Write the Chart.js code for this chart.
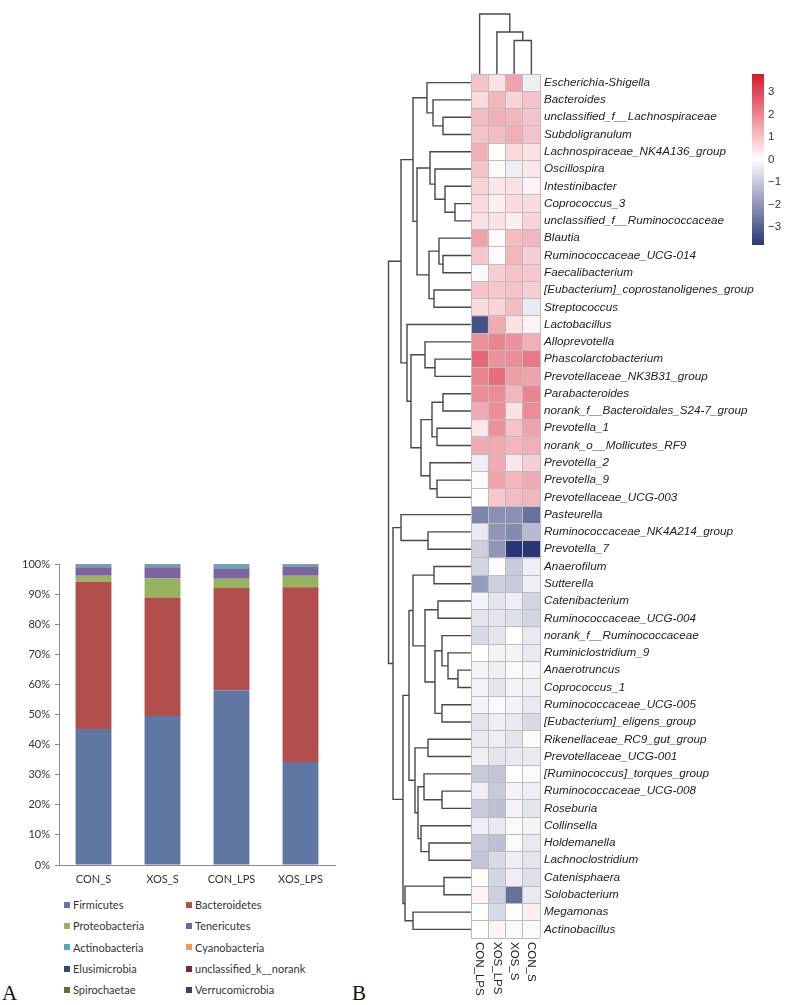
<!DOCTYPE html>
<html>
<head>
<meta charset="utf-8">
<script src="https://cdn.jsdelivr.net/npm/chart.js@4.4.1/dist/chart.umd.min.js"></script>
<style>
  html, body { margin: 0; padding: 0; background: #fff; }
  #page { position: relative; width: 789px; height: 1005px; overflow: hidden; }
  #page canvas { position: absolute; }
  #legendA {
    position: absolute; left: 64px; top: 894px;
    display: grid; grid-template-columns: 122px 150px; grid-auto-rows: 21.3px;
    font: 11px Lato, sans-serif; color: #333;
  }
  #legendA .item { display: flex; align-items: center; white-space: nowrap; }
  #legendA .sw { width: 6px; height: 6px; margin-right: 3px; }
  .tag { position: absolute; font: 21px "Liberation Serif", serif; color: #111; }
</style>
</head>
<body>
<div id="page">
  <canvas id="barsA" width="345" height="345" style="left:0;top:548px"></canvas>
  <div id="legendA"></div>
  <canvas id="rowTree" width="85" height="864" style="left:386px;top:74px"></canvas>
  <canvas id="colTree" width="69" height="74" style="left:471px;top:0"></canvas>
  <canvas id="heat" width="320" height="936" style="left:469px;top:72px"></canvas>
  <canvas id="scaleBar" width="40" height="180" style="left:752px;top:70px"></canvas>
  <div class="tag" style="left:2px;top:981px">A</div>
  <div class="tag" style="left:352px;top:981px">B</div>
</div>
<script>
'use strict';

// ---- panel A: relative abundance of phyla (%) ----
const groups = ['CON_S', 'XOS_S', 'CON_LPS', 'XOS_LPS'];
const phyla = ['Firmicutes', 'Bacteroidetes', 'Proteobacteria', 'Tenericutes', 'Actinobacteria',
    'Cyanobacteria', 'Elusimicrobia', 'unclassified_k__norank', 'Spirochaetae', 'Verrucomicrobia'];
const phylumColors = ['#6076a3', '#b24f4d', '#97b35f', '#7d649f', '#58a8be',
    '#f29a59', '#364b6c', '#6e2e2c', '#5f7133', '#4b3b5f'];
const firmicutes     = [45.2, 49.5, 58.0, 34.2];
const bacteroidetes  = [48.9, 39.4, 34.0, 58.1];
const proteobacteria = [2.0, 6.3, 3.1, 3.8];
const tenericutes    = [2.8, 3.7, 3.5, 2.9];
const actinobacteria = [0.8, 0.8, 1.1, 0.7];
const cyanobacteria  = [0.05, 0.05, 0.05, 0.05];
const elusimicrobia  = [0.05, 0.05, 0.05, 0.05];
const unclassifiedK  = [0.1, 0.1, 0.1, 0.1];
const spirochaetae   = [0.05, 0.05, 0.05, 0.05];
const verrucomicrobia = [0.05, 0.05, 0.05, 0.05];
const phylumShares = [firmicutes, bacteroidetes, proteobacteria, tenericutes, actinobacteria,
    cyanobacteria, elusimicrobia, unclassifiedK, spirochaetae, verrucomicrobia];
const percentTicks = [0, 10, 20, 30, 40, 50, 60, 70, 80, 90, 100];

// ---- panel B: heatmap of genus z-scores ----
const heatCols = ['CON_LPS', 'XOS_LPS', 'XOS_S', 'CON_S'];
const genera = [
    'Escherichia-Shigella', 'Bacteroides', 'unclassified_f__Lachnospiraceae', 'Subdoligranulum',
    'Lachnospiraceae_NK4A136_group', 'Oscillospira', 'Intestinibacter', 'Coprococcus_3',
    'unclassified_f__Ruminococcaceae', 'Blautia', 'Ruminococcaceae_UCG-014', 'Faecalibacterium',
    '[Eubacterium]_coprostanoligenes_group', 'Streptococcus', 'Lactobacillus', 'Alloprevotella',
    'Phascolarctobacterium', 'Prevotellaceae_NK3B31_group', 'Parabacteroides',
    'norank_f__Bacteroidales_S24-7_group', 'Prevotella_1', 'norank_o__Mollicutes_RF9',
    'Prevotella_2', 'Prevotella_9', 'Prevotellaceae_UCG-003', 'Pasteurella',
    'Ruminococcaceae_NK4A214_group', 'Prevotella_7', 'Anaerofilum', 'Sutterella',
    'Catenibacterium', 'Ruminococcaceae_UCG-004', 'norank_f__Ruminococcaceae',
    'Ruminiclostridium_9', 'Anaerotruncus', 'Coprococcus_1', 'Ruminococcaceae_UCG-005',
    '[Eubacterium]_eligens_group', 'Rikenellaceae_RC9_gut_group', 'Prevotellaceae_UCG-001',
    '[Ruminococcus]_torques_group', 'Ruminococcaceae_UCG-008', 'Roseburia', 'Collinsella',
    'Holdemanella', 'Lachnoclostridium', 'Catenisphaera', 'Solobacterium', 'Megamonas',
    'Actinobacillus'
];
const zScores = [
    [1.0, 0.5, 1.5, -0.3], [0.6, 1.2, 0.7, 1.0], [1.1, 1.3, 1.2, 1.0], [1.0, 1.1, 1.3, 1.0],
    [1.3, 0.0, 0.6, 0.5], [1.0, 0.1, -0.3, 0.4], [0.7, 0.4, 0.5, 0.2], [0.6, 0.3, 0.6, 0.6],
    [0.5, 0.5, 0.3, 0.7], [1.5, 0.1, 1.1, 1.2], [0.9, 0.1, 1.2, 0.8], [0.1, 0.8, 1.0, 0.9],
    [1.0, 0.9, 1.0, 0.8], [0.6, 0.7, 1.1, -0.4], [-3.3, 1.4, 0.5, 0.2], [1.8, 2.0, 1.8, 1.3],
    [2.5, 1.8, 1.9, 2.2], [2.0, 2.4, 1.6, 1.5], [1.9, 1.9, 1.2, 2.0], [1.4, 1.9, 0.5, 1.9],
    [0.4, 1.8, 1.0, 1.5], [1.4, 1.4, 1.2, 1.3], [-0.3, 1.4, 0.4, 0.8], [0.1, 1.5, 1.2, 1.4],
    [0.0, 0.9, 1.1, 1.2], [-2.3, -2.1, -2.1, -2.7], [-0.4, -2.0, -2.2, -1.3], [-0.9, -2.0, -3.8, -3.8],
    [-0.8, -0.05, -1.0, -0.3], [-1.9, -0.9, -1.0, -0.3], [-0.2, -0.5, -0.3, -0.8], [-0.5, -0.5, -0.6, -0.8],
    [-0.7, -0.5, 0.0, -0.4], [0.0, -0.2, -0.2, -0.4], [-0.2, -0.3, -0.1, -0.2], [-0.2, -0.5, -0.2, -0.3],
    [-0.2, -0.1, -0.2, -0.4], [-0.5, -0.3, -0.4, -0.7], [-0.4, -0.3, -0.5, -0.1], [-0.3, -0.5, -0.4, -0.4],
    [-1.0, -1.1, 0.0, -0.1], [-0.3, -1.0, -0.2, -0.3], [-1.0, -1.2, -0.2, -0.5], [-0.3, -0.4, -0.1, -0.2],
    [-1.0, -1.2, -0.1, -0.4], [-1.1, -0.7, -0.3, -0.5], [0.0, -0.8, -0.3, -0.6], [0.2, -0.9, -2.7, -0.4],
    [0.0, -0.7, 0.0, 0.3], [0.0, 0.2, -0.1, -0.1]
];
// hclust-style merges: negative = leaf (1-based), positive = earlier merge, then height
const rowMerges = [
    [-3, -4, 28], [-2, 1, 38], [-1, 2, 44], [-8, -9, 16], [-7, 4, 26], [-6, 5, 36], [-5, 6, 41],
    [-11, -12, 28], [-10, 8, 32], [-13, -14, 37], [9, 10, 42], [7, 11, 54], [3, 12, 58],
    [-17, -18, 36], [-16, 14, 46], [-19, -20, 28], [-21, -22, 34], [16, 17, 39], [-24, -25, 34],
    [-23, 19, 41], [18, 20, 50], [15, 21, 60], [-15, 22, 64], [13, 23, 70],
    [-27, -28, 43], [-26, 25, 70], [-29, -30, 37], [-31, -32, 33], [-35, -36, 13], [-34, 29, 23],
    [-33, 30, 29], [-37, -38, 29], [31, 32, 36], [28, 33, 46], [27, 34, 58], [-39, -40, 43],
    [-42, -43, 29], [-41, 37, 47], [-45, -46, 42], [-44, 39, 50], [38, 40, 53], [36, 41, 56],
    [35, 42, 62], [-47, -48, 27], [-49, -50, 58], [44, 45, 66], [43, 46, 68], [26, 47, 78],
    [24, 48, 82.5]
];
const colMerges = [[-3, -4, 33.5], [-2, 1, 42], [-1, 2, 60]];
const zLimit = 3.8;
const scaleTicks = [-3, -2, -1, 0, 1, 2, 3];

const LOW = [42, 55, 118], MID = [255, 255, 255], HIGH = [215, 24, 45];

function zColor(v) {
    const t = Math.min(Math.abs(v) / zLimit, 1);
    const end = v < 0 ? LOW : HIGH;
    const c = MID.map((m, i) => Math.round(m + (end[i] - m) * t));
    return `rgb(${c[0]},${c[1]},${c[2]})`;
}

// turn merges into U-shaped polylines: [height, position] pairs
function dendroSegments(merges) {
    const nodes = [];
    const get = k => (k < 0 ? { pos: -k - 1, h: 0 } : nodes[k - 1]);
    return merges.map(([a, b, h]) => {
        const A = get(a), B = get(b);
        nodes.push({ pos: (A.pos + B.pos) / 2, h });
        return [[A.h, A.pos], [h, A.pos], [h, B.pos], [B.h, B.pos]];
    });
}

// side axes should not push the plot area in for their end labels
const noEndPadding = s => { s.paddingTop = 0; s.paddingBottom = 0; };

Chart.defaults.font.family = '"Liberation Sans", Arial, sans-serif';
Chart.defaults.animation = false;

const noLegend = { legend: { display: false }, tooltip: { enabled: false } };

// ---- panel A chart ----
const barsA = new Chart(document.getElementById('barsA'), {
    type: 'bar',
    data: {
        labels: groups,
        datasets: phyla.map((name, i) => ({
            label: name,
            data: phylumShares[i],
            backgroundColor: phylumColors[i],
            barPercentage: 0.52,
            categoryPercentage: 1,
        })),
    },
    options: {
        responsive: false,
        layout: { padding: { top: 16, right: 10, left: 0, bottom: 0 } },
        plugins: noLegend,
        scales: {
            x: {
                stacked: true,
                grid: { display: false, drawTicks: false },
                border: { color: '#8a8a8a' },
                ticks: { padding: 8, color: '#333', font: { family: 'Lato', size: 11 } },
                afterFit: s => { s.height = 28; },
            },
            y: {
                stacked: true, min: 0, max: 100,
                afterBuildTicks: s => { s.ticks = percentTicks.map(v => ({ value: v })); },
                grid: { drawOnChartArea: false, tickLength: 4, color: '#8a8a8a' },
                border: { color: '#8a8a8a' },
                ticks: { padding: 5, color: '#333', font: { family: 'Lato', size: 11 }, callback: v => v + '%' },
                afterFit: s => { s.width = 59; noEndPadding(s); },
            },
        },
    },
});

// html legend in two columns, built from the chart's own legend items
const legendBox = document.getElementById('legendA');
Chart.defaults.plugins.legend.labels.generateLabels(barsA).forEach(item => {
    const el = document.createElement('div');
    el.className = 'item';
    el.innerHTML = `<span class="sw" style="background:${item.fillStyle}"></span>${item.text}`;
    legendBox.appendChild(el);
});

// ---- panel B: row dendrogram ----
const lineStyle = { showLine: true, pointRadius: 0, borderColor: '#484848', borderWidth: 1.4, clip: false };

new Chart(document.getElementById('rowTree'), {
    type: 'scatter',
    data: {
        datasets: dendroSegments(rowMerges).map(seg => ({
            ...lineStyle,
            data: seg.map(([h, p]) => ({ x: h, y: p })),
        })),
    },
    options: {
        responsive: false,
        plugins: noLegend,
        scales: {
            x: { display: false, min: 0, max: 85, reverse: true },
            y: { display: false, min: -0.5, max: genera.length - 0.5, reverse: true },
        },
    },
});

// ---- panel B: column dendrogram ----
new Chart(document.getElementById('colTree'), {
    type: 'scatter',
    data: {
        datasets: dendroSegments(colMerges).map(seg => ({
            ...lineStyle,
            data: seg.map(([h, p]) => ({ x: p, y: h })),
        })),
    },
    options: {
        responsive: false,
        plugins: noLegend,
        scales: {
            x: { display: false, min: -0.5, max: heatCols.length - 0.5 },
            y: { display: false, min: 0, max: 74 },
        },
    },
});

// ---- panel B: heatmap ----
const columnLabels = {
    id: 'columnLabels',
    afterDraw(chart) {
        const { ctx, chartArea, scales } = chart;
        ctx.save();
        ctx.font = '11.5px "Liberation Sans", Arial, sans-serif';
        ctx.fillStyle = '#222';
        ctx.textAlign = 'left';
        ctx.textBaseline = 'middle';
        chart.data.labels.forEach((label, i) => {
            ctx.save();
            ctx.translate(scales.x.getPixelForValue(i), chartArea.bottom + 4);
            ctx.rotate(Math.PI / 2);
            ctx.fillText(label, 0, 0);
            ctx.restore();
        });
        ctx.restore();
    },
};

new Chart(document.getElementById('heat'), {
    type: 'bar',
    data: {
        labels: heatCols,
        datasets: genera.map((g, r) => ({
            label: g,
            data: heatCols.map(() => 1),
            backgroundColor: zScores[r].map(zColor),
            borderWidth: 0,
            barPercentage: 1,
            categoryPercentage: 1,
        })),
    },
    options: {
        responsive: false,
        layout: { padding: { left: 2, top: 2, right: 0, bottom: 70 } },
        plugins: noLegend,
        scales: {
            x: {
                stacked: true,
                grid: { offset: true, color: '#bdbdbd', drawTicks: false, z: 1 },
                ticks: { display: false },
                border: { display: false },
            },
            y: {
                stacked: true, min: 0, max: genera.length, reverse: true,
                grid: { color: '#bdbdbd', drawTicks: false, z: 1 },
                ticks: { display: false, stepSize: 1, maxTicksLimit: 100 },
                border: { display: false },
                afterFit: noEndPadding,
            },
            rows: {
                type: 'category', labels: genera, position: 'right', offset: true,
                grid: { display: false, drawTicks: false },
                border: { display: false },
                ticks: { autoSkip: false, padding: 4, color: '#222', font: { size: 11.7, style: 'italic' } },
                afterFit: s => { s.width = 249; noEndPadding(s); },
            },
        },
    },
    plugins: [columnLabels],
});

// ---- panel B: colour key ----
new Chart(document.getElementById('scaleBar'), {
    type: 'bar',
    data: {
        labels: [''],
        datasets: [{
            data: [[-zLimit, zLimit]],
            barPercentage: 1,
            categoryPercentage: 1,
            backgroundColor: c => {
                const { chart } = c;
                if (!chart.chartArea) return null;
                const y = chart.scales.y;
                const g = chart.ctx.createLinearGradient(0, y.getPixelForValue(zLimit), 0, y.getPixelForValue(-zLimit));
                g.addColorStop(0, zColor(zLimit));
                g.addColorStop(0.5, zColor(0));
                g.addColorStop(1, zColor(-zLimit));
                return g;
            },
        }],
    },
    options: {
        responsive: false,
        layout: { padding: { top: 4, bottom: 5, left: 0, right: 0 } },
        plugins: noLegend,
        scales: {
            x: { display: false },
            y: {
                position: 'right', min: -zLimit, max: zLimit,
                afterBuildTicks: s => { s.ticks = scaleTicks.map(v => ({ value: v })); },
                grid: { display: false, drawTicks: false },
                border: { display: false },
                ticks: { padding: 4, color: '#333', font: { size: 11.5 }, callback: v => (v < 0 ? '\u2212' + Math.abs(v) : String(v)) },
                afterFit: s => { s.width = 28; noEndPadding(s); },
            },
        },
    },
});
</script>
</body>
</html>
